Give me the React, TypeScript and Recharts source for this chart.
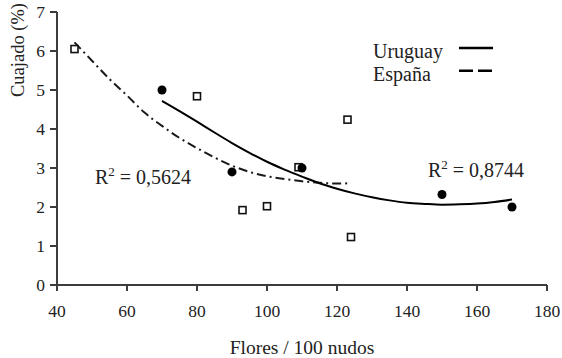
import React from "react";
import {
  ComposedChart,
  Scatter,
  Line,
  XAxis,
  YAxis,
  Label,
} from "recharts";

// Observed fruit set (%) versus flowers per 100 nodes
const uruguayX = [70, 90, 110, 150, 170];
const uruguayY = [5.0, 2.9, 3.0, 2.32, 2.0];

const espanaX = [45, 80, 93, 100, 109, 123, 124];
const espanaY = [6.05, 4.84, 1.92, 2.02, 3.02, 4.24, 1.23];

// Polynomial trend curves
const uruguayFitX = [70, 75, 80, 85, 90, 95, 100, 105, 110, 115, 120, 125, 130, 135, 140, 145, 150, 155, 160, 165, 170];
const uruguayFitY = [4.72, 4.46, 4.19, 3.91, 3.64, 3.39, 3.16, 2.96, 2.78, 2.61, 2.47, 2.35, 2.25, 2.17, 2.11, 2.08, 2.06, 2.07, 2.09, 2.13, 2.19];

const espanaFitX = [45, 50, 55, 60, 65, 70, 75, 80, 85, 90, 95, 100, 105, 110, 115, 120, 124];
const espanaFitY = [6.22, 5.75, 5.28, 4.86, 4.42, 4.08, 3.77, 3.51, 3.27, 3.06, 2.9, 2.79, 2.72, 2.66, 2.62, 2.6, 2.61];

const xTicks = [40, 60, 80, 100, 120, 140, 160, 180];
const yTicks = [0, 1, 2, 3, 4, 5, 6, 7];

const seriesNames = ["Uruguay", "España"];
const r2Uruguay = "0,8744";
const r2Espana = "0,5624";

const toPoints = (xs: number[], ys: number[]) => xs.map((x, i) => ({ x, y: ys[i] }));

const uruguayPts = toPoints(uruguayX, uruguayY);
const espanaPts = toPoints(espanaX, espanaY);
const uruguayFit = toPoints(uruguayFitX, uruguayFitY);
const espanaFit = toPoints(espanaFitX, espanaFitY);

const FONT = "'Liberation Serif', 'Times New Roman', serif";
const AXIS = "#3c3c3c";
const INK = "#222";

const Dot = (p: any) => <circle cx={p.cx} cy={p.cy} r={4.5} fill="#000" />;
const Box = (p: any) => (
  <rect x={p.cx - 3.5} y={p.cy - 3.5} width={7} height={7} fill="#fff" stroke="#111" strokeWidth={1.6} />
);

const XTick = (p: any) => (
  <text x={p.x} y={p.y} dy={13} textAnchor="middle" fontFamily={FONT} fontSize={17.5} fill={INK}>
    {p.payload.value}
  </text>
);

const YTick = (p: any) => (
  <text x={p.x} y={p.y} dy={6} textAnchor="end" fontFamily={FONT} fontSize={17.5} fill={INK}>
    {p.payload.value}
  </text>
);

const R2 = ({ x, y, value }: { x: number; y: number; value: string }) => (
  <text x={x} y={y} fontFamily={FONT} fontSize={20} fill={INK}>
    <tspan>R</tspan>
    <tspan dy={-8} fontSize={13}>2</tspan>
    <tspan dy={8}>{` = ${value}`}</tspan>
  </text>
);

// Axis title, R² annotations and the key, drawn in one layer
const Annotations = () => (
  <g fontFamily={FONT} fill={INK}>
    <text
      transform="translate(24,50) rotate(-90)"
      textAnchor="middle"
      fontFamily={FONT}
      fontSize={18.5}
      fill={INK}
    >
      Cuajado (%)
    </text>
    <R2 x={95} y={184} value={r2Espana} />
    <R2 x={428} y={177} value={r2Uruguay} />
    <g transform="translate(370,38)">
      <text x={3} y={20} fontFamily={FONT} fontSize={20} fill={INK}>{seriesNames[0]}</text>
      <line x1={89} x2={123} y1={10} y2={10} stroke="#000" strokeWidth={2.5} />
      <text x={3} y={43} fontFamily={FONT} fontSize={20} fill={INK}>{seriesNames[1]}</text>
      <line x1={89} x2={123} y1={32.7} y2={32.7} stroke="#000" strokeWidth={2.5} strokeDasharray="14 5" />
    </g>
  </g>
);

const XTitle = () => (
  <text x={302} y={354} textAnchor="middle" fontFamily={FONT} fontSize={19.5} fill={INK}>
    Flores / 100 nudos
  </text>
);

export default function App() {
  return (
    <div style={{ position: "absolute", left: 0, top: 0, background: "#fff", fontFamily: FONT }}>
      <ComposedChart
        width={562}
        height={358}
        margin={{ top: 12, right: 15, bottom: 0, left: 0 }}
        style={{ fontFamily: FONT }}
      >
        <XAxis
          type="number"
          dataKey="x"
          domain={[40, 180]}
          ticks={xTicks}
          allowDataOverflow
          height={73}
          stroke={AXIS}
          strokeWidth={2}
          tickSize={6}
          tickMargin={13}
          tick={<XTick />}
        >
          <Label content={<XTitle />} />
        </XAxis>
        <YAxis
          type="number"
          dataKey="y"
          domain={[0, 7]}
          ticks={yTicks}
          width={57}
          stroke={AXIS}
          strokeWidth={2}
          tickSize={7}
          tickMargin={5}
          tick={<YTick />}
        >
          <Label content={<Annotations />} />
        </YAxis>
        <Line
          data={espanaFit}
          dataKey="y"
          type="monotone"
          stroke="#1a1a1a"
          strokeWidth={2}
          strokeDasharray="9 4 2 4"
          dot={false}
          activeDot={false}
          isAnimationActive={false}
        />
        <Line
          data={uruguayFit}
          dataKey="y"
          type="monotone"
          stroke="#000"
          strokeWidth={2}
          dot={false}
          activeDot={false}
          isAnimationActive={false}
        />
        <Scatter data={espanaPts} dataKey="y" shape={<Box />} isAnimationActive={false} />
        <Scatter data={uruguayPts} dataKey="y" shape={<Dot />} isAnimationActive={false} />
      </ComposedChart>
    </div>
  );
}
